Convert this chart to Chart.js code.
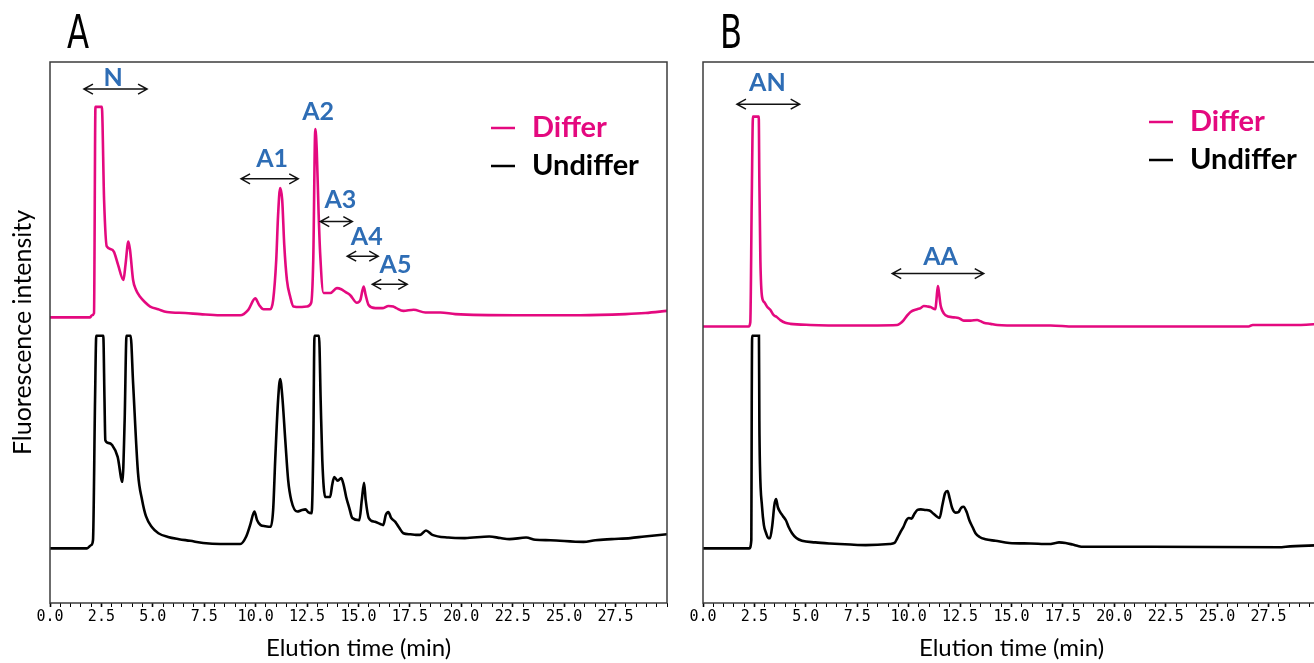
<!DOCTYPE html>
<html>
<head>
<meta charset="utf-8">
<title>Elution profiles</title>
<script src="https://cdn.jsdelivr.net/npm/chart.js@4.4.1/dist/chart.umd.min.js"></script>
<style>
    html, body { margin: 0; padding: 0; background: #fff; overflow: hidden; }
    #page { position: relative; width: 1314px; height: 663px; overflow: hidden; }
    #chart-a { position: absolute; left: 0; top: 0; }
    #chart-b { position: absolute; left: 680px; top: 0; }
    .panel-tag {
        position: absolute; top: 9px;
        font: 46px 'Liberation Sans Narrow', 'DejaVu Sans Condensed', sans-serif;
        line-height: 1; color: #000;
        transform: scaleX(0.78); transform-origin: left top;
    }
</style>
</head>
<body>
<div id="page">
    <canvas id="chart-a" width="680" height="663"></canvas>
    <canvas id="chart-b" width="660" height="663"></canvas>
    <div class="panel-tag" style="left:67px">A</div>
    <div class="panel-tag" style="left:720px">B</div>
</div>
<script>
// ---------- Data (y in relative fluorescence units) ----------

const seriesNames = ['Differ', 'Undiffer'];

// Panel A
const timeDifferA = [0, 1.95, 2.04, 2.14, 2.21, 2.52, 2.63, 2.76, 2.97, 3.11, 3.31, 3.57, 3.67, 3.81, 3.89, 4.04, 4.18, 4.38, 4.62, 4.87, 5.26, 5.68, 6.57, 7.30, 8.27, 9.25, 9.64, 9.98, 10.17, 10.38, 10.71, 10.85, 11.00, 11.09, 11.19, 11.29, 11.39, 11.52, 11.68, 11.84, 12.17, 12.49, 12.70, 12.80, 12.90, 12.97, 13.06, 13.14, 13.30, 13.63, 13.95, 14.16, 14.36, 14.60, 14.92, 15.09, 15.25, 15.35, 15.49, 15.82, 16.16, 16.46, 16.69, 16.84, 17.18, 17.68, 18.25, 18.98, 19.71, 22.63, 25.79, 27.98, 28.95, 30];
const signalDifferA = [52.8, 52.8, 53.2, 53.6, 91.7, 91.7, 74.5, 65.9, 65.4, 64.9, 62.5, 59.7, 62.5, 66.8, 65.3, 59.7, 57.9, 56.6, 55.6, 54.8, 54.3, 53.8, 53.6, 53.4, 53.2, 53.2, 54.2, 56.3, 55.1, 54.3, 54.3, 56.0, 63.4, 71.7, 76.7, 74.5, 66.2, 59.7, 56.6, 54.8, 54.7, 54.8, 55.5, 63.4, 87.6, 83.7, 72.1, 64.3, 57.3, 57.3, 58.2, 58.0, 57.5, 56.9, 55.5, 56.0, 58.5, 56.9, 55.1, 54.5, 54.5, 54.9, 54.8, 54.5, 54.0, 54.2, 53.7, 53.7, 53.4, 53.2, 53.2, 53.4, 53.6, 54.0];

const timeUndifferA = [0, 1.80, 2.00, 2.09, 2.19, 2.25, 2.59, 2.65, 2.69, 2.82, 3.02, 3.29, 3.52, 3.63, 3.72, 3.92, 4.04, 4.28, 4.48, 4.67, 4.96, 5.27, 5.74, 6.27, 6.81, 7.45, 8.27, 9.25, 9.54, 9.73, 9.94, 10.07, 10.24, 10.46, 10.73, 10.85, 10.95, 11.09, 11.19, 11.29, 11.44, 11.58, 11.73, 12.02, 12.26, 12.42, 12.55, 12.72, 12.80, 12.86, 13.08, 13.16, 13.24, 13.38, 13.62, 13.72, 13.82, 13.99, 14.16, 14.28, 14.40, 14.55, 14.70, 15.04, 15.16, 15.27, 15.35, 15.50, 15.80, 16.06, 16.20, 16.33, 16.45, 16.59, 16.79, 16.98, 17.18, 17.52, 17.79, 18.00, 18.28, 18.59, 19.37, 20.17, 21.36, 21.90, 22.34, 23.15, 23.60, 24.33, 25.94, 26.52, 27.30, 28.22, 28.91, 30];
const signalUndifferA = [10.1, 10.1, 10.7, 11.6, 37.5, 49.4, 49.4, 37.5, 30.1, 29.6, 29.2, 27.0, 22.4, 33.8, 49.4, 49.4, 40.7, 24.0, 19.0, 16.0, 14.0, 12.9, 12.2, 11.8, 11.5, 11.1, 10.9, 10.9, 12.3, 14.4, 16.9, 15.3, 14.4, 14.2, 14.1, 17.2, 26.4, 37.5, 41.4, 38.4, 30.1, 22.7, 19.0, 16.9, 17.2, 17.3, 16.8, 16.6, 28.3, 49.4, 49.4, 37.5, 26.4, 19.6, 19.6, 21.8, 23.3, 22.6, 23.1, 21.8, 19.6, 17.6, 15.7, 15.3, 19.0, 22.2, 19.0, 15.7, 15.0, 14.6, 14.4, 16.3, 16.8, 15.7, 15.0, 13.9, 12.9, 12.7, 12.6, 12.6, 13.4, 12.6, 12.1, 12.0, 12.3, 12.0, 11.8, 12.1, 11.7, 11.6, 11.3, 11.6, 11.8, 12.0, 12.3, 12.7];

// Panel B
const timeDifferB = [0, 2.22, 2.30, 2.37, 2.43, 2.71, 2.74, 2.79, 2.87, 2.98, 3.11, 3.27, 3.44, 3.57, 3.76, 4.00, 4.25, 5.22, 7.17, 9.44, 9.60, 9.76, 9.94, 10.09, 10.41, 10.58, 10.73, 10.91, 11.06, 11.30, 11.35, 11.42, 11.47, 11.55, 11.64, 11.79, 12.19, 12.42, 12.68, 13.01, 13.33, 13.49, 13.65, 13.98, 14.31, 15.44, 16.90, 18.02, 21.77, 26.53, 26.73, 29.07, 30];
const signalDifferB = [51.1, 51.1, 51.9, 74.5, 89.9, 89.9, 78.2, 63.4, 56.6, 55.6, 54.8, 54.2, 53.2, 52.9, 52.3, 51.8, 51.6, 51.4, 51.3, 51.4, 51.7, 52.3, 53.2, 53.8, 54.3, 54.5, 54.9, 54.8, 54.7, 54.3, 56.0, 58.6, 57.5, 55.1, 54.0, 53.2, 52.8, 52.7, 52.2, 52.2, 52.3, 52.1, 51.8, 51.6, 51.4, 51.3, 51.3, 51.1, 51.1, 51.1, 51.4, 51.4, 51.6];

const timeUndifferB = [0, 2.25, 2.35, 2.37, 2.39, 2.72, 2.74, 2.77, 2.87, 2.96, 3.07, 3.18, 3.26, 3.37, 3.47, 3.55, 3.64, 3.74, 3.88, 4.03, 4.17, 4.33, 4.54, 4.81, 5.46, 6.17, 7.17, 7.91, 9.07, 9.31, 9.45, 9.60, 9.75, 9.89, 10.00, 10.14, 10.28, 10.43, 10.59, 10.82, 11.01, 11.21, 11.40, 11.50, 11.64, 11.77, 11.89, 11.99, 12.11, 12.28, 12.42, 12.55, 12.67, 12.82, 12.95, 13.11, 13.25, 13.45, 13.73, 14.22, 14.89, 15.93, 16.83, 17.14, 17.31, 17.63, 17.97, 18.27, 18.48, 21.77, 28.07, 28.34, 30];
const signalUndifferB = [10.1, 10.1, 11.6, 37.5, 49.4, 49.4, 33.8, 25.2, 17.8, 14.4, 12.9, 12.0, 12.0, 14.4, 18.1, 19.2, 17.7, 16.9, 16.1, 15.3, 14.0, 12.9, 12.0, 11.5, 11.2, 11.0, 10.8, 10.7, 10.9, 11.1, 12.0, 13.1, 14.1, 15.3, 15.7, 15.6, 16.5, 17.2, 17.3, 17.2, 17.1, 16.5, 15.9, 15.7, 18.1, 20.3, 20.7, 19.4, 17.6, 16.7, 16.8, 17.6, 17.8, 16.8, 15.3, 14.0, 12.9, 12.2, 11.8, 11.5, 11.1, 11.0, 10.9, 11.1, 11.2, 11.1, 10.8, 10.5, 10.4, 10.4, 10.3, 10.4, 10.7];

// Peak-region annotations (time in min, level in the same y units)
const regionNamesA = ['N', 'A1', 'A2', 'A3', 'A4', 'A5'];
const regionStartA = [1.65, 9.29, null, 13.14, 14.45, 15.67];
const regionEndA = [4.72, 12.07, null, 14.70, 15.96, 17.37];
const regionArrowLevelA = [95.0, 78.4, null, 70.5, 64.1, 58.9];
const regionLabelTimeA = [3.07, 10.80, 13.04, 14.12, 15.40, 16.80];
const regionLabelLevelA = [97.0, 82.1, 90.8, 74.5, 67.6, 62.5];

const regionNamesB = ['AN', 'AA'];
const regionStartB = [1.65, 9.20];
const regionEndB = [4.70, 13.65];
const regionArrowLevelB = [92.2, 60.9];
const regionLabelTimeB = [3.13, 11.55];
const regionLabelLevelB = [96.1, 64.0];

// Axis
const timeMin = 0;
const timeMax = 30;
const timeStep = 0.5;
const labelEvery = 2.5;

// ---------- Styles ----------

const PINK = '#E4097F';
const BLACK = '#000000';
const LABEL_BLUE = '#2E6DB5';
const BOX_COLOR = '#3c3c3c';

Chart.defaults.font.family = 'Lato, sans-serif';
Chart.defaults.color = '#000';
Chart.defaults.animation = false;

// ---------- Plugins ----------

const frameBox = {
    id: 'frameBox',
    afterDraw(chart) {
        const { ctx, chartArea: a } = chart;
        ctx.save();
        ctx.strokeStyle = BOX_COLOR;
        ctx.lineWidth = 1.5;
        ctx.strokeRect(a.left, a.top, a.right - a.left, a.bottom - a.top);
        ctx.restore();
    }
};

function drawDoubleArrow(ctx, x1, x2, y) {
    const head = 9, half = 5;
    ctx.beginPath();
    ctx.moveTo(x1, y);
    ctx.lineTo(x2, y);
    ctx.moveTo(x1 + head, y - half);
    ctx.lineTo(x1, y);
    ctx.lineTo(x1 + head, y + half);
    ctx.moveTo(x2 - head, y - half);
    ctx.lineTo(x2, y);
    ctx.lineTo(x2 - head, y + half);
    ctx.stroke();
}

const peakLabels = {
    id: 'peakLabels',
    afterDatasetsDraw(chart, args, opts) {
        const { ctx, scales: { x, y } } = chart;
        ctx.save();
        ctx.font = 'bold 25px Lato';
        ctx.textAlign = 'center';
        ctx.textBaseline = 'middle';
        ctx.strokeStyle = '#111';
        ctx.lineWidth = 1.5;
        opts.names.forEach((name, i) => {
            ctx.fillStyle = LABEL_BLUE;
            ctx.fillText(name, x.getPixelForValue(opts.labelTime[i]), y.getPixelForValue(opts.labelLevel[i]));
            if (opts.start[i] == null) return;
            drawDoubleArrow(ctx, x.getPixelForValue(opts.start[i]), x.getPixelForValue(opts.end[i]), y.getPixelForValue(opts.arrowLevel[i]));
        });
        ctx.restore();
    }
};

const floatLegend = {
    id: 'floatLegend',
    afterDraw(chart, args, opts) {
        const { ctx, chartArea: a } = chart;
        ctx.save();
        ctx.font = 'bold 29px Lato';
        ctx.textBaseline = 'middle';
        ctx.textAlign = 'left';
        chart.data.datasets.forEach((ds, i) => {
            const x0 = a.left + opts.left;
            const y0 = a.top + opts.top + i * opts.rowGap;
            ctx.strokeStyle = ds.borderColor;
            ctx.lineWidth = 2.5;
            ctx.beginPath();
            ctx.moveTo(x0, y0);
            ctx.lineTo(x0 + 24, y0);
            ctx.stroke();
            ctx.fillStyle = ds.borderColor;
            ctx.fillText(ds.label, x0 + 41, y0);
        });
        ctx.restore();
    }
};

// ---------- Chart building ----------

function toPoints(times, values) {
    return times.map((t, i) => ({ x: t, y: values[i] }));
}

function traceDataset(label, times, values, color) {
    return {
        label,
        data: toPoints(times, values),
        borderColor: color,
        backgroundColor: color,
        borderWidth: 2.6,
        pointRadius: 0,
        cubicInterpolationMode: 'monotone',
        fill: false
    };
}

function isLabelTick(v) {
    const k = v / labelEvery;
    return Math.abs(k - Math.round(k)) < 1e-6 && v < timeMax - 1e-6;
}

function timeAxis() {
    return {
        type: 'linear',
        min: timeMin,
        max: timeMax,
        afterFit: scale => { scale.height = 60; },
        border: { display: false },
        grid: {
            display: true,
            drawOnChartArea: false,
            drawTicks: true,
            tickLength: 4,
            color: '#000',
            tickWidth: ctx => (ctx.tick && isLabelTick(ctx.tick.value) ? 1.6 : 1)
        },
        ticks: {
            stepSize: timeStep,
            autoSkip: false,
            maxRotation: 0,
            padding: 1,
            font: { family: "'DejaVu Sans Mono', monospace", size: 15 },
            color: '#000',
            callback: v => (isLabelTick(v) ? v.toFixed(1) : '')
        },
        title: {
            display: true,
            text: 'Elution time (min)',
            font: { size: 24 },
            padding: { top: 0, bottom: 0 }
        }
    };
}

function makeChart(canvasId, datasets, annotations, legendPos, withYTitle) {
    const yAxis = withYTitle
        ? {
            min: 0, max: 100,
            afterFit: scale => { scale.width = 50; },
            grid: { display: false },
            border: { display: false },
            ticks: { display: false },
            title: {
                display: true,
                text: 'Fluorescence intensity',
                font: { size: 25 },
                padding: { top: 8, bottom: 0 }
            }
        }
        : { min: 0, max: 100, display: false };

    return new Chart(document.getElementById(canvasId), {
        type: 'line',
        data: { datasets },
        options: {
            responsive: false,
            layout: { padding: withYTitle ? { top: 62, right: 13, left: 0, bottom: 0 } : { top: 62, right: 20, left: 23, bottom: 0 } },
            scales: { x: timeAxis(), y: yAxis },
            plugins: {
                legend: { display: false },
                tooltip: { enabled: false },
                peakLabels: annotations,
                floatLegend: legendPos
            }
        },
        plugins: [frameBox, peakLabels, floatLegend]
    });
}

makeChart('chart-a', [
    traceDataset(seriesNames[0], timeDifferA, signalDifferA, PINK),
    traceDataset(seriesNames[1], timeUndifferA, signalUndifferA, BLACK)
], {
    names: regionNamesA, start: regionStartA, end: regionEndA,
    arrowLevel: regionArrowLevelA, labelTime: regionLabelTimeA, labelLevel: regionLabelLevelA
}, { left: 441, top: 66, rowGap: 38 }, true);

makeChart('chart-b', [
    traceDataset(seriesNames[0], timeDifferB, signalDifferB, PINK),
    traceDataset(seriesNames[1], timeUndifferB, signalUndifferB, BLACK)
], {
    names: regionNamesB, start: regionStartB, end: regionEndB,
    arrowLevel: regionArrowLevelB, labelTime: regionLabelTimeB, labelLevel: regionLabelLevelB
}, { left: 446, top: 60, rowGap: 38 }, false);
</script>
</body>
</html>
